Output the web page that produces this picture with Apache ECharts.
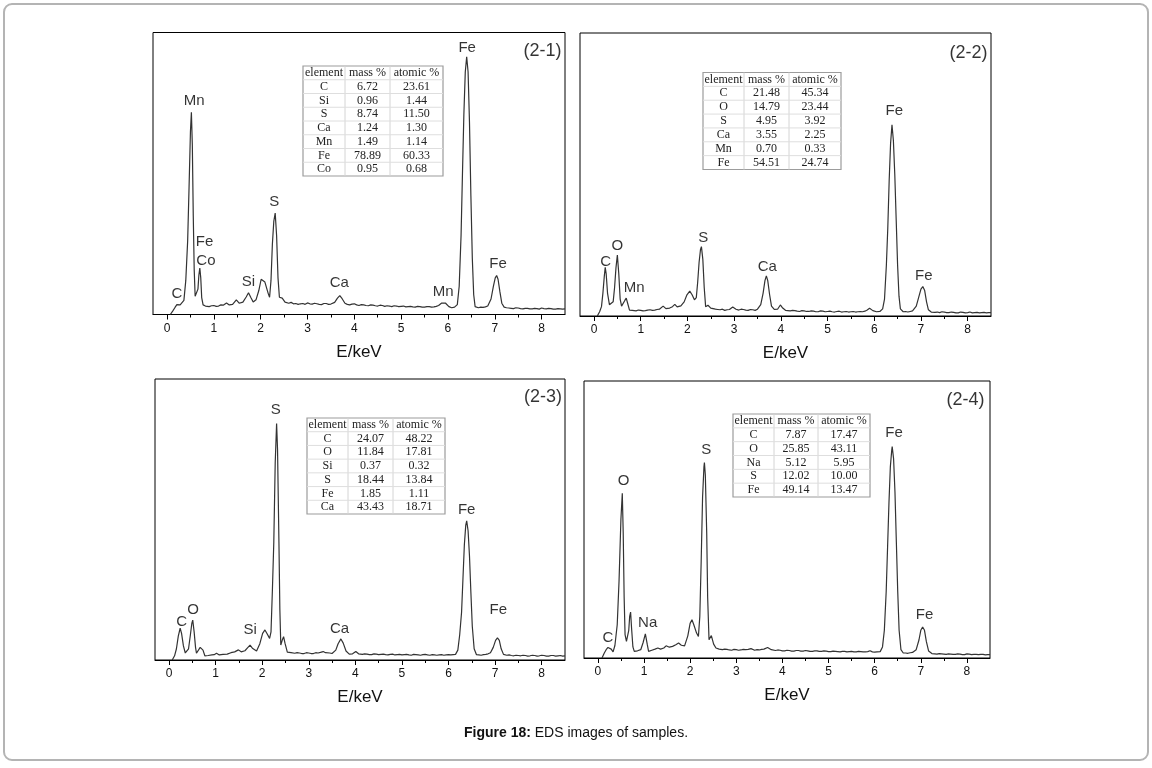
<!DOCTYPE html>
<html><head><meta charset="utf-8">
<script src="https://cdn.jsdelivr.net/npm/echarts@6/dist/echarts.min.js"></script>
<style>html,body{margin:0;padding:0;background:#fff}#c{width:1152px;height:768px}</style>
</head><body><div id="c"></div>
<script>
// ---------- DATA ----------
const xTickValues = [0,1,2,3,4,5,6,7,8];
const xMinorTickValues = [0.5,1.5,2.5,3.5,4.5,5.5,6.5,7.5];
const panelTitles = ['(2-1)','(2-2)','(2-3)','(2-4)'];
const axisTitle = 'E/keV';
const captionBold = 'Figure 18:';
const captionText = ' EDS images of samples.';

// spectra: [energy keV, counts (arbitrary, 0-100 full scale)]
const spec21 = [[0.07,0],[0.12,1.2],[0.17,2.5],[0.21,3.5],[0.24,4.0],[0.28,3.4],[0.32,2.8],[0.36,5],[0.40,12],[0.44,26],[0.47,45],[0.50,65],[0.52,71.7],[0.54,60],[0.56,35],[0.58,16],[0.60,6.5],[0.63,6],[0.66,9],[0.68,14],[0.70,16.5],[0.72,13],[0.74,6],[0.77,3.4],[0.82,3.0],[0.9,2.8],[0.95,3.1],[1.0,3.2],[1.05,2.9],[1.1,3.0],[1.15,3.4],[1.2,3.3],[1.27,4.1],[1.33,3.4],[1.4,3.6],[1.48,5.2],[1.54,4.0],[1.62,4.4],[1.69,6.2],[1.74,7.7],[1.79,6.0],[1.84,4.4],[1.9,5.2],[1.96,8.5],[2.01,12.5],[2.05,13.2],[2.09,11.5],[2.12,10.9],[2.16,7.5],[2.19,6.1],[2.22,12],[2.25,25],[2.28,33],[2.31,36],[2.34,28],[2.37,13],[2.40,6.1],[2.46,5.8],[2.52,4.4],[2.6,4.0],[2.65,4.3],[2.7,3.8],[2.75,3.9],[2.8,3.6],[2.85,3.8],[2.9,3.9],[2.95,3.6],[3.0,4.1],[3.05,3.8],[3.1,3.7],[3.15,4.0],[3.2,3.8],[3.25,3.6],[3.3,3.5],[3.35,3.9],[3.4,3.9],[3.45,3.6],[3.5,3.7],[3.58,4.3],[3.64,5.8],[3.69,6.7],[3.74,5.6],[3.8,4.0],[3.85,3.6],[3.9,3.4],[3.95,3.7],[4.0,3.8],[4.05,3.4],[4.1,3.2],[4.15,3.5],[4.2,3.4],[4.25,3.2],[4.3,3.1],[4.35,3.4],[4.4,3.3],[4.45,3.1],[4.5,3.0],[4.55,3.3],[4.6,3.2],[4.65,2.9],[4.7,3.1],[4.75,3.0],[4.8,2.8],[4.85,3.1],[4.9,3.0],[4.95,2.8],[5.0,2.9],[5.05,3.0],[5.1,2.7],[5.15,2.8],[5.2,2.9],[5.25,2.7],[5.3,2.6],[5.35,2.9],[5.4,2.8],[5.45,2.6],[5.5,2.6],[5.55,2.8],[5.6,2.8],[5.65,2.6],[5.7,2.7],[5.75,2.9],[5.8,3.2],[5.86,4.0],[5.9,4.6],[5.95,4.0],[6.02,2.8],[6.08,2.4],[6.14,2.6],[6.2,3.5],[6.24,10],[6.28,28],[6.31,50],[6.34,71],[6.37,86],[6.40,91.4],[6.43,86],[6.46,68],[6.49,42],[6.52,20],[6.55,7],[6.58,2.8],[6.65,2.4],[6.7,2.6],[6.75,2.5],[6.8,2.7],[6.85,3.0],[6.92,5.5],[6.97,10],[7.01,13],[7.04,13.8],[7.07,12.5],[7.11,8],[7.15,4],[7.2,2.6],[7.25,2.4],[7.3,2.3],[7.35,2.2],[7.4,2.1],[7.45,2.4],[7.5,2.3],[7.55,2.1],[7.6,2.0],[7.65,2.2],[7.7,2.2],[7.75,2.0],[7.8,2.0],[7.85,2.2],[7.9,2.1],[7.95,1.9],[8.0,2.3],[8.05,2.1],[8.1,2.0],[8.15,2.2],[8.2,2.1],[8.25,1.9],[8.3,1.9],[8.35,2.1],[8.4,2.0],[8.45,1.9],[8.5,2.0]];

const spec22 = [[0.07,0],[0.12,1.5],[0.16,3.3],[0.19,8],[0.22,14],[0.24,17.2],[0.26,15],[0.29,8],[0.33,4],[0.37,3.3],[0.41,5],[0.44,10],[0.47,17],[0.50,21.5],[0.53,15],[0.56,6],[0.59,3.5],[0.63,3.8],[0.66,5.5],[0.69,6.3],[0.72,4.5],[0.76,2.1],[0.82,2.0],[0.9,1.8],[0.95,2.1],[1.0,2.0],[1.05,1.8],[1.1,1.9],[1.15,2.1],[1.2,2.2],[1.25,2.0],[1.3,2.1],[1.35,2.3],[1.4,2.4],[1.48,3.5],[1.54,2.6],[1.62,2.8],[1.68,3.3],[1.73,4.1],[1.78,3.2],[1.86,3.6],[1.93,5],[1.99,7.5],[2.05,8.8],[2.10,7.5],[2.15,5.7],[2.19,6.5],[2.22,12],[2.25,19],[2.28,23.5],[2.30,24.5],[2.33,20],[2.36,10],[2.39,3.3],[2.44,3.8],[2.5,2.8],[2.55,2.6],[2.6,2.4],[2.65,2.3],[2.7,2.2],[2.75,2.4],[2.8,2.0],[2.85,2.2],[2.9,2.3],[2.97,3.2],[3.04,2.4],[3.1,2.1],[3.15,2.4],[3.2,2.3],[3.25,2.1],[3.3,2.0],[3.35,2.3],[3.4,2.2],[3.45,2.0],[3.5,2.4],[3.57,4],[3.62,8],[3.66,12.5],[3.69,14.2],[3.72,12.5],[3.76,7.5],[3.8,3.5],[3.86,2.3],[3.93,2.4],[3.99,3.9],[4.04,2.8],[4.1,2.0],[4.15,1.9],[4.2,1.8],[4.25,2.0],[4.3,1.9],[4.35,1.7],[4.4,1.6],[4.45,1.9],[4.5,1.8],[4.55,1.6],[4.6,1.6],[4.65,1.8],[4.7,1.7],[4.75,1.5],[4.8,1.5],[4.85,1.8],[4.9,1.7],[4.95,1.5],[5.0,1.6],[5.05,1.7],[5.1,1.5],[5.15,1.4],[5.2,1.6],[5.25,1.7],[5.3,1.4],[5.35,1.5],[5.4,1.6],[5.45,1.4],[5.5,1.5],[5.55,1.6],[5.6,1.4],[5.65,1.5],[5.7,1.6],[5.75,1.5],[5.8,1.7],[5.85,2.1],[5.9,2.7],[5.97,1.9],[6.05,1.5],[6.12,1.6],[6.18,2.5],[6.22,6],[6.26,18],[6.29,31],[6.32,48],[6.35,61],[6.38,67.6],[6.41,62],[6.44,50],[6.47,34],[6.50,18],[6.53,7],[6.56,2.5],[6.62,1.5],[6.67,1.6],[6.72,1.4],[6.77,1.6],[6.82,1.8],[6.9,3.5],[6.95,6.5],[7.0,9.5],[7.04,10.4],[7.08,9],[7.12,5],[7.16,2.2],[7.22,1.4],[7.26,1.5],[7.3,1.3],[7.35,1.4],[7.4,1.2],[7.45,1.5],[7.5,1.4],[7.55,1.2],[7.6,1.2],[7.65,1.4],[7.7,1.3],[7.75,1.1],[7.8,1.1],[7.85,1.4],[7.9,1.3],[7.95,1.1],[8.0,1.2],[8.05,1.4],[8.1,1.1],[8.15,1.2],[8.2,1.3],[8.25,1.1],[8.3,1.2],[8.35,1.3],[8.4,1.1],[8.45,1.2],[8.5,1.2]];

const spec23 = [[0.07,0],[0.12,1.5],[0.16,4],[0.2,8.5],[0.24,11.3],[0.27,9.5],[0.31,5],[0.35,2.5],[0.38,1.8],[0.42,4],[0.46,9],[0.49,13],[0.51,14.2],[0.54,10],[0.57,4.5],[0.59,2.4],[0.63,2.8],[0.67,4.5],[0.70,5.1],[0.73,3.5],[0.77,1.5],[0.84,1.6],[0.92,1.8],[0.97,1.9],[1.02,2.4],[1.08,1.8],[1.16,2.0],[1.2,2.2],[1.25,2.1],[1.29,2.4],[1.33,2.6],[1.37,2.5],[1.41,2.9],[1.49,3.6],[1.55,2.9],[1.63,3.3],[1.69,4.4],[1.74,5.3],[1.79,4.2],[1.88,3.2],[1.95,5.8],[2.01,9.5],[2.06,10.7],[2.10,9.5],[2.16,7.7],[2.19,10],[2.22,25],[2.25,42],[2.28,70],[2.31,84.2],[2.33,75],[2.36,42],[2.38,18],[2.40,5.3],[2.43,7],[2.46,8.3],[2.49,6],[2.54,2.8],[2.58,2.7],[2.62,2.6],[2.66,2.5],[2.7,2.4],[2.75,2.6],[2.8,2.5],[2.85,2.3],[2.9,2.3],[2.95,2.6],[3.0,2.5],[3.05,2.3],[3.1,2.3],[3.15,2.6],[3.2,2.5],[3.25,2.7],[3.31,3.0],[3.36,2.6],[3.4,2.4],[3.45,2.5],[3.5,2.3],[3.58,3.5],[3.63,5.8],[3.69,7.5],[3.74,6.0],[3.8,3.2],[3.87,2.1],[3.94,2.2],[4.01,3.0],[4.07,2.2],[4.15,2.0],[4.2,2.2],[4.25,2.1],[4.3,1.9],[4.35,1.9],[4.4,2.2],[4.45,2.1],[4.5,1.9],[4.55,2.0],[4.6,2.1],[4.65,1.9],[4.7,1.8],[4.75,2.0],[4.8,2.1],[4.85,1.8],[4.9,1.9],[4.95,2.0],[5.0,1.8],[5.05,1.9],[5.1,2.0],[5.15,1.8],[5.2,1.7],[5.25,2.0],[5.3,1.9],[5.35,1.8],[5.4,1.7],[5.45,1.9],[5.5,2.0],[5.55,1.8],[5.6,1.7],[5.65,1.9],[5.7,1.8],[5.75,1.7],[5.8,1.8],[5.85,1.9],[5.9,1.7],[5.95,1.8],[6.0,1.9],[6.05,1.8],[6.1,1.9],[6.15,2.0],[6.2,3.5],[6.24,9],[6.28,17],[6.31,29],[6.34,41],[6.37,48],[6.39,49.5],[6.42,46],[6.45,37],[6.48,24],[6.51,12],[6.55,4],[6.6,1.9],[6.65,1.8],[6.7,1.7],[6.75,1.9],[6.8,2.0],[6.85,2.2],[6.9,2.6],[6.96,4.5],[7.01,7],[7.05,7.9],[7.09,7],[7.13,4],[7.18,2.0],[7.25,1.7],[7.3,1.8],[7.35,1.6],[7.4,1.5],[7.45,1.7],[7.5,1.6],[7.55,1.5],[7.6,1.7],[7.65,1.6],[7.7,1.4],[7.75,1.5],[7.8,1.7],[7.85,1.6],[7.9,1.4],[7.95,1.5],[8.0,1.7],[8.05,1.6],[8.1,1.4],[8.15,1.4],[8.2,1.6],[8.25,1.6],[8.3,1.4],[8.35,1.5],[8.4,1.6],[8.45,1.4],[8.5,1.5]];

const spec24 = [[0.09,0],[0.14,1.8],[0.18,3.0],[0.22,3.8],[0.25,4.2],[0.29,3.2],[0.33,2.2],[0.37,4.5],[0.42,12],[0.46,28],[0.50,50],[0.53,59.5],[0.55,45],[0.57,22],[0.59,8.4],[0.62,6],[0.64,5.4],[0.67,10],[0.69,15],[0.71,16.6],[0.73,11],[0.76,4],[0.79,2.4],[0.86,2.6],[0.93,3.0],[0.98,5.5],[1.03,8.7],[1.07,5],[1.1,2.4],[1.17,2.8],[1.24,3.2],[1.30,3.6],[1.36,3.2],[1.43,3.6],[1.48,4.4],[1.55,3.9],[1.62,4.2],[1.69,4.8],[1.75,5.4],[1.81,4.6],[1.88,4.4],[1.95,8],[2.00,12.5],[2.04,13.8],[2.08,12],[2.14,9],[2.18,7.8],[2.21,15],[2.24,35],[2.27,58],[2.30,69],[2.31,70.6],[2.33,66],[2.36,45],[2.38,22],[2.41,6.6],[2.46,8.1],[2.51,5],[2.56,3.6],[2.6,3.3],[2.63,3.2],[2.67,3.4],[2.7,3.0],[2.75,3.2],[2.8,3.1],[2.85,2.9],[2.9,2.8],[2.95,3.1],[3.0,3.0],[3.05,2.8],[3.1,2.9],[3.15,3.1],[3.2,3.0],[3.26,3.1],[3.32,3.4],[3.36,3.0],[3.4,2.8],[3.45,3.0],[3.5,2.9],[3.55,3.1],[3.6,3.2],[3.68,3.8],[3.72,3.4],[3.76,3.0],[3.8,2.9],[3.85,2.7],[3.9,2.9],[3.95,2.8],[4.0,2.6],[4.05,2.6],[4.1,2.8],[4.15,2.7],[4.2,2.5],[4.25,2.5],[4.3,2.7],[4.35,2.7],[4.4,2.5],[4.45,2.5],[4.5,2.7],[4.55,2.6],[4.6,2.4],[4.65,2.4],[4.7,2.6],[4.75,2.6],[4.8,2.4],[4.85,2.4],[4.9,2.6],[4.95,2.5],[5.0,2.3],[5.05,2.3],[5.1,2.5],[5.15,2.4],[5.2,2.3],[5.25,2.2],[5.3,2.4],[5.35,2.4],[5.4,2.2],[5.45,2.3],[5.5,2.4],[5.55,2.2],[5.6,2.2],[5.65,2.4],[5.7,2.3],[5.75,2.2],[5.8,2.2],[5.85,2.3],[5.9,2.6],[5.95,2.2],[6.0,2.1],[6.05,2.2],[6.12,2.3],[6.17,4],[6.21,10],[6.25,24],[6.28,40],[6.31,56],[6.34,69],[6.37,75],[6.38,76.3],[6.41,72],[6.44,60],[6.47,42],[6.50,24],[6.53,10],[6.57,3],[6.62,1.8],[6.67,1.8],[6.72,1.7],[6.77,1.9],[6.82,2.0],[6.9,3.0],[6.96,6.5],[7.0,10],[7.04,11.2],[7.08,10],[7.12,6],[7.17,2.5],[7.24,1.6],[7.3,1.5],[7.35,1.4],[7.4,1.6],[7.45,1.5],[7.5,1.4],[7.55,1.3],[7.6,1.5],[7.65,1.4],[7.7,1.3],[7.75,1.3],[7.8,1.5],[7.85,1.4],[7.9,1.2],[7.95,1.2],[8.0,1.5],[8.05,1.4],[8.1,1.2],[8.15,1.3],[8.2,1.3],[8.25,1.2],[8.3,1.3],[8.35,1.3],[8.4,1.1],[8.45,1.2],[8.5,1.2]];

// peak labels: [text, energy, height]
const peaks21 = [['C',0.21,7.3],['Mn',0.58,75.8],['Fe',0.80,25.6],['Co',0.83,19.1],['Si',1.74,11.5],['S',2.29,39.8],['Ca',3.68,11.1],['Mn',5.90,7.9],['Fe',6.41,94.7],['Fe',7.07,17.9]];
const peaks22 = [['C',0.25,19.2],['O',0.50,24.8],['Mn',0.86,10.1],['S',2.34,27.5],['Ca',3.71,17.5],['Fe',6.43,72.5],['Fe',7.06,14.2]];
const peaks23 = [['C',0.27,13.6],['O',0.52,17.8],['Si',1.74,10.7],['S',2.29,89.0],['Ca',3.66,11.0],['Fe',6.39,53.4],['Fe',7.07,18.0]];
const peaks24 = [['C',0.22,7.2],['O',0.56,63.9],['Na',1.08,12.6],['S',2.35,75.1],['Fe',6.42,81.1],['Fe',7.08,15.6]];
const titlePos = [[8.02,93.5],[8.02,92.9],[8.03,93.7],[7.97,93.1]];

// composition tables
const tableHead = ['element','mass %','atomic %'];
const table21 = [['C','6.72','23.61'],['Si','0.96','1.44'],['S','8.74','11.50'],['Ca','1.24','1.30'],['Mn','1.49','1.14'],['Fe','78.89','60.33'],['Co','0.95','0.68']];
const table22 = [['C','21.48','45.34'],['O','14.79','23.44'],['S','4.95','3.92'],['Ca','3.55','2.25'],['Mn','0.70','0.33'],['Fe','54.51','24.74']];
const table23 = [['C','24.07','48.22'],['O','11.84','17.81'],['Si','0.37','0.32'],['S','18.44','13.84'],['Fe','1.85','1.11'],['Ca','43.43','18.71']];
const table24 = [['C','7.87','17.47'],['O','25.85','43.11'],['Na','5.12','5.95'],['S','12.02','10.00'],['Fe','49.14','13.47']];

// ---------- LAYOUT ----------
const spectra = [spec21, spec22, spec23, spec24];
const peaks = [peaks21, peaks22, peaks23, peaks24];
const tables = [table21, table22, table23, table24];
const grids = [
  {left:153, top:32.5, width:412, height:282},
  {left:580, top:33, width:411, height:283},
  {left:155, top:379, width:410, height:281},
  {left:584, top:381, width:406, height:277}
];
const tableBoxes = [
  {x:303, y:66, w:140, h:110, cols:[42,45,53]},
  {x:703, y:72.5, w:138, h:97, cols:[41,45,52]},
  {x:307, y:418, w:138, h:96, cols:[41,45,52]},
  {x:733, y:414, w:137, h:83, cols:[41,44,52]}
];
const SANS = 'Liberation Sans, Arial, sans-serif';
const SERIF = 'Liberation Serif, Times New Roman, serif';

const xAxes = [], yAxes = [], series = [], graphics = [];
grids.forEach((g, i) => {
  xAxes.push({
    gridIndex:i, type:'value', min:-0.3, max:8.5,
    name: axisTitle, nameLocation:'middle', nameGap:29,
    nameTextStyle:{fontFamily:SANS, fontSize:17, color:'#111'},
    axisLine:{show:true, onZero:false, lineStyle:{color:'#000', width:1}},
    axisTick:{show:true, inside:false, length:5, customValues:xTickValues, lineStyle:{color:'#000'}},
    axisLabel:{show:true, customValues:xTickValues, margin:8, fontFamily:SANS, fontSize:12, color:'#111'},
    splitLine:{show:false}
  });
  xAxes.push({
    gridIndex:i, type:'value', min:-0.3, max:8.5, position:'bottom',
    axisLine:{show:false},
    axisTick:{show:true, inside:false, length:3, customValues:xMinorTickValues, lineStyle:{color:'#000'}},
    axisLabel:{show:false}, splitLine:{show:false}
  });
  yAxes.push({gridIndex:i, type:'value', min:0, max:100, show:false, splitLine:{show:false}});
  series.push({
    type:'line', xAxisIndex:2*i, yAxisIndex:i, data:spectra[i],
    showSymbol:false, symbol:'none', smooth:false, silent:true,
    lineStyle:{color:'#333', width:1.2}
  });
  const labelData = peaks[i].map(p => ({name:p[0], value:[p[1], p[2]]}));
  labelData.push({name:panelTitles[i], value:titlePos[i], label:{fontSize:18}});
  series.push({
    type:'scatter', xAxisIndex:2*i, yAxisIndex:i, data:labelData, silent:true,
    symbolSize:1, itemStyle:{color:'rgba(0,0,0,0)'},
    label:{show:true, position:'inside', formatter:'{b}', fontFamily:SANS, fontSize:15, color:'#000'}
  });

  // table
  const tb = tableBoxes[i];
  const rows = [tableHead].concat(tables[i]);
  const rh = tb.h / rows.length;
  const children = [{type:'rect', shape:{x:0,y:0,width:tb.w,height:tb.h}, style:{fill:'#fff', stroke:'#9c9c9c', lineWidth:1.2}}];
  let cx = 0;
  for (let c = 0; c < tb.cols.length - 1; c++) {
    cx += tb.cols[c];
    children.push({type:'line', shape:{x1:cx,y1:0,x2:cx,y2:tb.h}, style:{stroke:'#d4d4d4', lineWidth:1}});
  }
  for (let r = 1; r < rows.length; r++) {
    children.push({type:'line', shape:{x1:0,y1:r*rh,x2:tb.w,y2:r*rh}, style:{stroke:'#dedede', lineWidth:1}});
  }
  rows.forEach((row, r) => {
    let x0 = 0;
    row.forEach((txt, c) => {
      children.push({type:'text', x:x0 + tb.cols[c]/2, y:r*rh + rh/2,
        style:{text:txt, fill:'#222', font:'12px ' + SERIF, align:'center', verticalAlign:'middle'}});
      x0 += tb.cols[c];
    });
  });
  graphics.push({type:'group', x:tb.x, y:tb.y, children, z:100});
});

// outer frame and caption
graphics.push({type:'rect', shape:{x:4, y:4, width:1144, height:756, r:8}, style:{fill:'none', stroke:'#b4b4b4', lineWidth:2}, z:0});
graphics.push({type:'text', x:576, y:733, style:{
  text:'{b|' + captionBold + '}{n|' + captionText + '}', align:'center', verticalAlign:'middle',
  rich:{b:{fontFamily:SANS, fontSize:14, fontWeight:'bold', fill:'#111'}, n:{fontFamily:SANS, fontSize:14, fill:'#111'}}
}});

const chart = echarts.init(document.getElementById('c'), null, {renderer:'canvas'});
chart.setOption({
  animation:false,
  backgroundColor:'#fff',
  grid: grids.map(g => Object.assign({show:true, borderColor:'#000', borderWidth:1, backgroundColor:'transparent', containLabel:false}, g)),
  xAxis: xAxes, yAxis: yAxes, series, graphic: graphics
});
</script></body></html>
